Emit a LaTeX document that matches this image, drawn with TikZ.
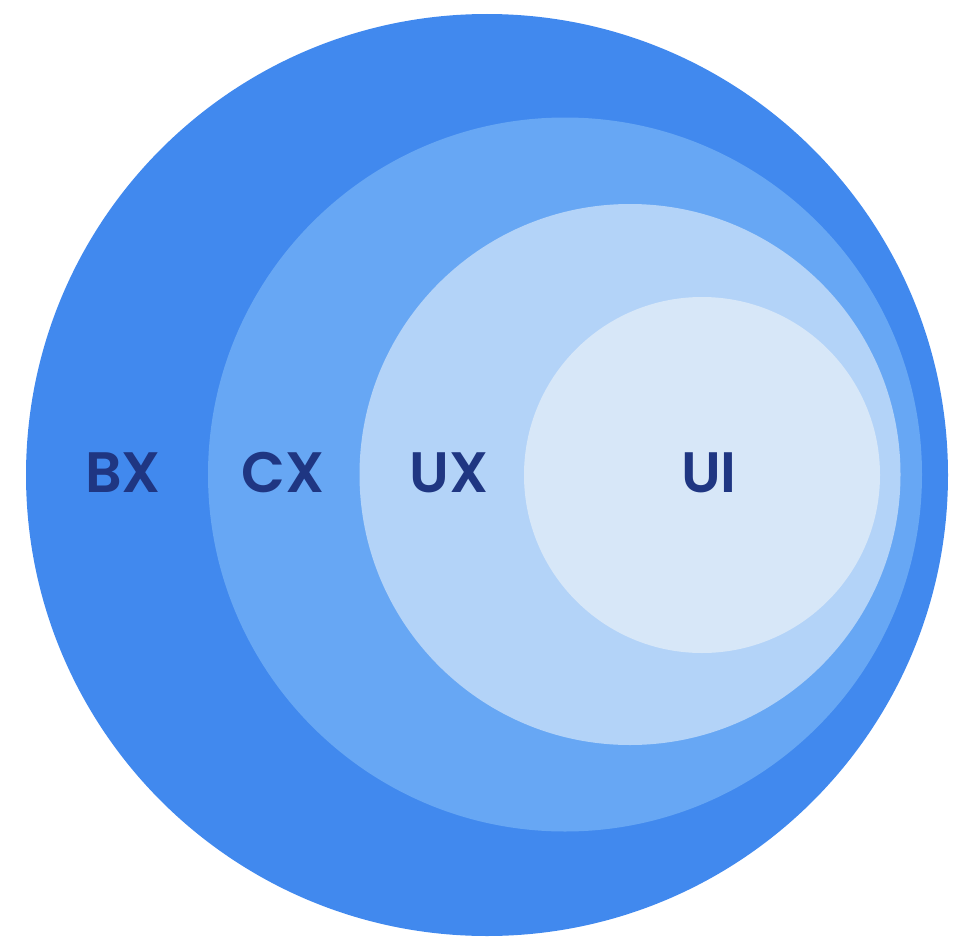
\documentclass[tikz,border=0pt]{standalone}
\usepackage{fontspec}
\setmainfont{Poppins}[BoldFont={* SemiBold}]
\definecolor{bxc}{HTML}{4189EE}
\definecolor{cxc}{HTML}{67A7F4}
\definecolor{uxc}{HTML}{B3D3F8}
\definecolor{uic}{HTML}{D7E7F8}
\definecolor{txt}{HTML}{1F3682}
\tikzset{ring/.style={circle, inner sep=0pt, draw=none},
  lbl/.style={text=txt, font=\fontsize{57}{57}\selectfont\bfseries, inner sep=0pt, anchor=base}}
\begin{document}
\begin{tikzpicture}[x=1pt,y=-1pt]
\useasboundingbox (0,0) rectangle (972,950);
\node[ring, fill=bxc, minimum size=922pt] (bx) at (487,475) {};
\node[ring, fill=cxc, minimum size=714pt] (cx) at (565,474.5) {};
\node[ring, fill=uxc, minimum size=541pt] (ux) at (630,474.5) {};
\node[ring, fill=uic, minimum size=356pt] (ui) at (702,475) {};
\node[lbl] (tbx) at (123,492) {BX};
\node[lbl] (tcx) at (283,492) {CX};
\node[lbl] (tux) at (449,492) {UX};
\node[lbl] (tui) at (709,492) {UI};
\end{tikzpicture}
\end{document}
